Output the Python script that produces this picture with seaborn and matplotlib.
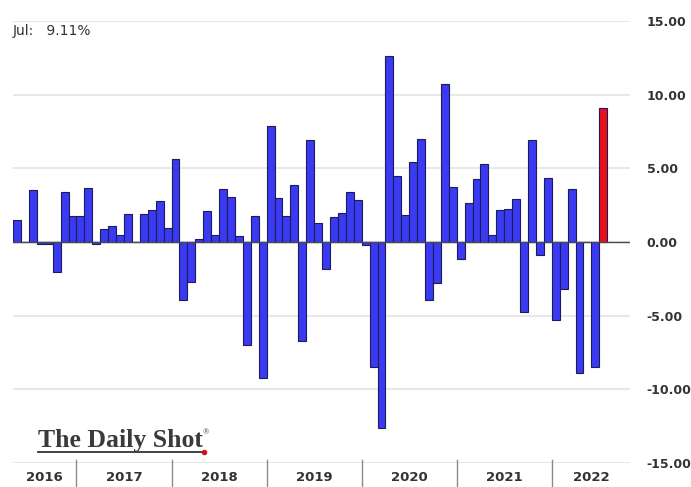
import pandas as pd
import matplotlib
matplotlib.use("Agg")
import matplotlib.pyplot as plt
import seaborn as sns

# Monthly % change, May 2016 - Jul 2022
years = ["2016", "2017", "2018", "2019", "2020", "2021", "2022"]
vals_2016 = [1.5, 0.0, 3.5, -0.1, -0.1, -2.0, 3.4, 1.8]
vals_2017 = [1.75, 3.7, -0.1, 0.9, 1.1, 0.45, 1.9, 0.0, 1.9, 2.2, 2.8, 0.95]
vals_2018 = [5.6, -3.95, -2.7, 0.2, 2.1, 0.45, 3.6, 3.05, 0.4, -7.0, 1.75, -9.25]
vals_2019 = [7.9, 3.0, 1.75, 3.9, -6.7, 6.9, 1.3, -1.85, 1.7, 2.0, 3.4, 2.85]
vals_2020 = [-0.2, -8.5, -12.6, 12.65, 4.5, 1.85, 5.45, 7.0, -3.95, -2.8, 10.75, 3.75]
vals_2021 = [-1.15, 2.65, 4.3, 5.3, 0.45, 2.2, 2.25, 2.9, -4.75, 6.9, -0.9, 4.35]
vals_2022 = [-5.3, -3.2, 3.6, -8.9, 0.0, -8.5, 9.11]
yticks = [-15, -10, -5, 0, 5, 10, 15]
latest_label = "Jul:   9.11%"

per_year = [vals_2016, vals_2017, vals_2018, vals_2019, vals_2020, vals_2021, vals_2022]
values = [v for ys in per_year for v in ys]
df = pd.DataFrame({
    "pos": range(len(values)),
    "value": values,
    "latest": ["last" if i == len(values) - 1 else "hist" for i in range(len(values))],
})

plt.rcParams["axes.unicode_minus"] = False
fig = plt.figure(figsize=(6.91, 4.87), dpi=100)
ax = fig.add_axes([0.019, 0.049, 0.893, 0.908])

sns.barplot(
    data=df, x="pos", y="value", hue="latest",
    palette={"hist": "#3a3af2", "last": "#e8101a"}, saturation=1,
    width=1.0, dodge=False, edgecolor="#1c1c5a", linewidth=0.8,
    legend=False, ax=ax, zorder=3,
)

ax.set_xlim(-0.5, 77.4)
ax.set_ylim(-15, 15)
ax.set_yticks(yticks)
ax.set_yticklabels([f"{t:.2f}" for t in yticks], fontsize=9, fontweight="bold", color="#333333")
ax.yaxis.tick_right()
ax.tick_params(axis="y", length=0, pad=12)
ax.set_xticks([])
ax.set_xlabel("")
ax.set_ylabel("")
for s in ax.spines.values():
    s.set_visible(False)
ax.grid(axis="y", color="#e8e8e8", lw=1.5, zorder=0)
ax.set_axisbelow(True)
ax.axhline(0, color="#4a4a4a", lw=1.0, zorder=4)

# year separators and labels below the axis
tr = ax.get_xaxis_transform()
edges = [-0.5]
n = 0
for ys in per_year:
    n += len(ys)
    edges.append(n - 0.5)
edges[-1] = 77.4
for i, yr in enumerate(years):
    ax.text((edges[i] + edges[i + 1]) / 2, -0.032, yr, transform=tr, ha="center", va="center",
            fontsize=9.5, fontweight="bold", color="#333333")
    if i > 0:
        ax.plot([edges[i], edges[i]], [0.006, -0.06], transform=tr, color="#8a8a8a",
                lw=1.0, clip_on=False)

ax.text(0.0, 0.978, latest_label, transform=ax.transAxes, fontsize=10, color="#333333",
        ha="left", va="center")

# logo
fig.text(0.055, 0.083, "The Daily Shot", family="Liberation Serif", fontsize=18.5,
         fontweight="bold", color="#3a3a3a", ha="left", va="baseline")
fig.text(0.293, 0.108, "®", family="Liberation Serif", fontsize=6, color="#3a3a3a")
fig.lines.append(plt.Line2D([0.055, 0.295], [0.071, 0.071], transform=fig.transFigure,
                            color="#333333", lw=1.3))
fig.lines.append(plt.Line2D([0.295], [0.071], transform=fig.transFigure, marker="o",
                            markersize=3, color="#d0141b"))

fig.savefig("out.png", dpi=100)
